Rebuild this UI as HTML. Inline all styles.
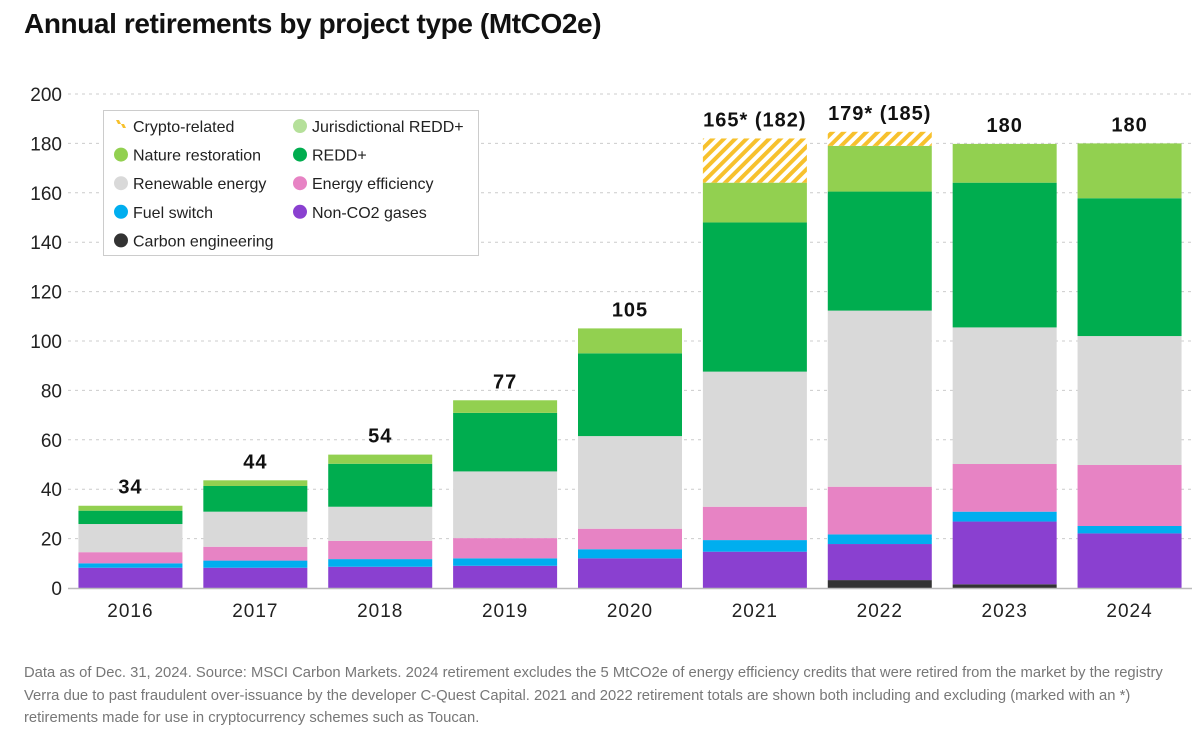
<!DOCTYPE html>
<html><head><meta charset="utf-8"><style>
body{margin:0;background:#fff;font-family:"Liberation Sans",sans-serif;}
#wrap{position:relative;width:1200px;height:735px;overflow:hidden}
h1{position:absolute;left:24px;top:8px;margin:0;font-size:28px;font-weight:bold;color:#111;letter-spacing:-0.4px}
.note{position:absolute;left:24px;top:662px;width:1170px;font-size:14.8px;line-height:22.5px;color:#777;white-space:nowrap}
</style></head><body>
<div id="wrap">
<h1>Annual retirements by project type (MtCO2e)</h1>
<svg id="chart" width="1200" height="660" style="position:absolute;left:0;top:0">
<defs><pattern id="hatch" patternUnits="userSpaceOnUse" width="8" height="8" patternTransform="rotate(45)"><rect width="8" height="8" fill="#fff"/><rect width="4" height="8" fill="#f7c12d"/></pattern></defs>
</svg>
<div class="note">Data as of Dec. 31, 2024. Source: MSCI Carbon Markets. 2024 retirement excludes the 5 MtCO2e of energy efficiency credits that were retired from the market by the registry<br>Verra due to past fraudulent over-issuance by the developer C-Quest Capital. 2021 and 2022 retirement totals are shown both including and excluding (marked with an *)<br>retirements made for use in cryptocurrency schemes such as Toucan.</div>
</div>
<script>
const years=["2016","2017","2018","2019","2020","2021","2022","2023","2024"];
const carbonEng=[0,0,0,0,0,0,3.2,1.5,0];
const nonCO2=[8.2,8.2,8.6,9,12,14.7,14.6,25.4,22.1];
const fuelSwitch=[1.8,2.9,3.1,3,3.7,4.7,3.9,4,3];
const energyEff=[4.5,5.6,7.4,8.2,8.3,13.5,19.3,19.3,24.7];
const renewable=[11.4,14.2,13.8,27,37.5,54.7,71.3,55.3,52.2];
const redd=[5.4,10.4,17.4,23.7,33.5,60.4,48.2,58.6,55.8];
const jurisdictional=[0,0,0,0,0,0,0,0,0];
const nature=[2,2.3,3.7,5.1,10.1,16.1,18.5,15.7,22.2];
const crypto=[0,0,0,0,0,17.9,5.7,0,0];
const totalLabels=["34","44","54","77","105","165* (182)","179* (185)","180","180"];
const yTicks=[0,20,40,60,80,100,120,140,160,180,200];

const series=[
 {name:"carbon-engineering",vals:carbonEng,fill:"#333333"},
 {name:"non-co2-gases",vals:nonCO2,fill:"#8a40d0"},
 {name:"fuel-switch",vals:fuelSwitch,fill:"#00aeef"},
 {name:"energy-efficiency",vals:energyEff,fill:"#e783c4"},
 {name:"renewable-energy",vals:renewable,fill:"#d9d9d9"},
 {name:"redd-plus",vals:redd,fill:"#00ad4f"},
 {name:"jurisdictional-redd",vals:jurisdictional,fill:"#b5e09a"},
 {name:"nature-restoration",vals:nature,fill:"#92d050"},
 {name:"crypto-related",vals:crypto,fill:"url(#hatch)"}
];
const NS="http://www.w3.org/2000/svg";
const svg=document.getElementById('chart');
const x0=68,x1=1192,yBase=588,yTop=94;
const y=v=>yBase-(v/200)*(yBase-yTop);
const band=(x1-x0)/years.length;
const xc=i=>x0+band*(i+0.5);
const bw=104;
function mk(t,a){const e=document.createElementNS(NS,t);for(const k in a)e.setAttribute(k,a[k]);svg.appendChild(e);return e;}
yTicks.forEach(t=>{
 if(t>0){const g=mk('line',{x1:x0,x2:x1,y1:y(t),y2:y(t),stroke:'#ccc','stroke-dasharray':'3,4','stroke-width':1});
 
 }
 const l=mk('text',{x:62,y:y(t)+7,'text-anchor':'end','font-size':19,fill:'#222'});
 l.textContent=t;
 
 
});
years.forEach((yr,i)=>{
 let cum=0;
 series.forEach(s=>{
  const v=s.vals[i]; if(!v)return;
  const r=mk('rect',{x:xc(i)-bw/2,y:y(cum+v),width:bw,height:y(cum)-y(cum+v),fill:s.fill});
  
  
  cum+=v;
 });
 const tl=mk('text',{x:xc(i),y:y(cum)-12,'text-anchor':'middle','font-size':20,'font-weight':'bold',fill:'#111','letter-spacing':'1'});
 tl.textContent=totalLabels[i];
 
 
 const xl=mk('text',{x:xc(i),y:617,'text-anchor':'middle','font-size':19,fill:'#222','letter-spacing':'1'});
 xl.textContent=yr;
 
 
});
const ax=mk('line',{x1:x0,x2:x1,y1:yBase+0.5,y2:yBase+0.5,stroke:'#bbb','stroke-width':1.5});


const lb=mk('rect',{x:103.5,y:110.5,width:375,height:145,fill:'#fff',stroke:'#ccc'});


const leg=[["Crypto-related","crypto",0,0],["Jurisdictional REDD+","#b5e09a",1,0],["Nature restoration","#92d050",0,1],["REDD+","#00ad4f",1,1],["Renewable energy","#d9d9d9",0,2],["Energy efficiency","#e783c4",1,2],["Fuel switch","#00aeef",0,3],["Non-CO2 gases","#8a40d0",1,3],["Carbon engineering","#333333",0,4]];
leg.forEach(([n,c,col,row])=>{
 const lx=121+col*179, ly=126+row*28.6;
 let m;
 if(c==="crypto"){m=mk('path',{d:`M${lx-5} ${ly-6} l3 0 l2 4 l3 0 l2 4 l-3 0 l-2 -4 l-3 0z`,fill:'#f7c12d'});}
 else m=mk('circle',{cx:lx,cy:ly,r:7,fill:c});
 
 
 const t=mk('text',{x:lx+12,y:ly+6,'font-size':16,fill:'#222'});
 t.textContent=n;
 
 
});
</script>
</body></html>
